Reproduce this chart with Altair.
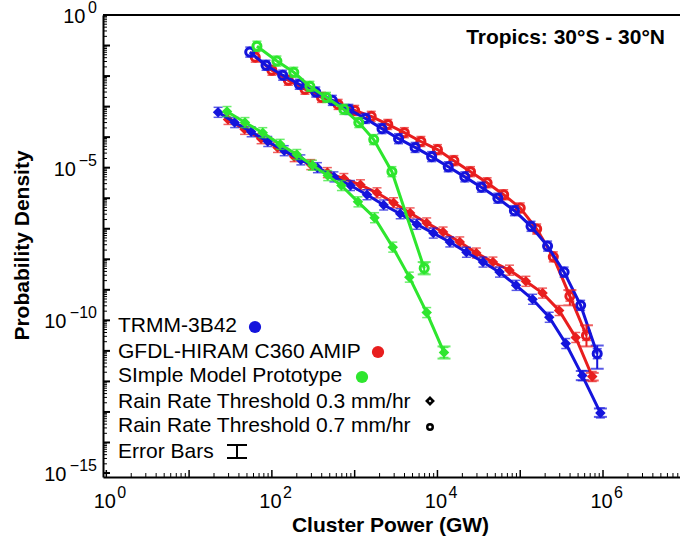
import altair as alt
import pandas as pd

FONT = "Liberation Sans, Arial, DejaVu Sans, sans-serif"
BLUE = "#1414dc"
RED = "#e81e1e"
GREEN = "#2ee62e"

# ---------------- data ----------------
# TRMM-3B42, threshold 0.3 mm/hr (diamonds)
trmm03_x = [22.4, 35.5, 56.2, 89.1, 141, 224, 355, 562, 891, 1410, 2240, 3550, 5620, 8910,
            1.41e4, 2.24e4, 3.55e4, 5.62e4, 8.91e4, 1.41e5, 2.24e5, 3.55e5, 5.62e5, 9.3e5]
trmm03_y = [6.5e-4, 3.0e-4, 1.5e-4, 7.2e-5, 3.6e-5, 1.8e-5, 1.0e-5, 5.0e-6, 2.6e-6, 1.3e-6,
            6.0e-7, 3.1e-7, 1.4e-7, 7.2e-8, 3.7e-8, 1.7e-8, 8.1e-9, 3.8e-9, 1.4e-9, 4.9e-10,
            1.26e-10, 1.74e-11, 1.55e-12, 9.3e-14]
# TRMM-3B42, threshold 0.7 mm/hr (circles)
trmm07_x = [54, 85, 135, 214, 339, 537, 851, 1350, 2140, 3390, 5370, 8510, 1.35e4, 2.14e4,
            3.39e4, 5.37e4, 8.51e4, 1.35e5, 2.14e5, 3.39e5, 5.37e5, 8.51e5]
trmm07_y = [0.061, 0.0226, 0.0107, 0.0054, 0.0030, 0.0016, 8.1e-4, 4.1e-4, 1.9e-4, 8.9e-5,
            4.6e-5, 2.3e-5, 1.07e-5, 5.0e-6, 2.3e-6, 1.0e-6, 3.9e-7, 1.2e-7, 2.7e-8, 3.8e-9,
            3.1e-10, 8.1e-12]
# GFDL-HIRAM C360 AMIP, 0.3 mm/hr
gfdl03_x = [29.5, 46.8, 74.1, 117, 186, 295, 468, 741, 1175, 1862, 2951, 4677, 7413, 1.17e4,
            1.86e4, 2.95e4, 4.68e4, 7.41e4, 1.17e5, 1.86e5, 2.95e5, 4.68e5, 7.41e5]
gfdl03_y = [3.8e-4, 1.8e-4, 8.9e-5, 4.6e-5, 2.3e-5, 1.26e-5, 6.9e-6, 4.4e-6, 2.75e-6, 1.5e-6,
            7.1e-7, 3.3e-7, 1.55e-7, 7.8e-8, 3.7e-8, 1.6e-8, 8.1e-9, 4.4e-9, 1.9e-9, 7.8e-10,
            2.1e-10, 2.75e-11, 1.45e-12]
# GFDL-HIRAM C360 AMIP, 0.7 mm/hr
gfdl07_x = [63, 100, 158, 251, 398, 631, 1000, 1585, 2512, 3981, 6310, 1.0e4, 1.58e4, 2.51e4,
            3.98e4, 6.31e4, 1.0e5, 1.58e5, 2.51e5, 3.98e5, 6.31e5]
gfdl07_y = [0.0417, 0.0155, 0.0073, 0.0037, 0.0020, 0.00118, 7.5e-4, 4.8e-4, 2.6e-4, 1.4e-4,
            7.2e-5, 3.9e-5, 1.7e-5, 7.4e-6, 3.2e-6, 1.3e-6, 4.8e-7, 9.8e-8, 1.2e-8, 6.2e-10,
            3.2e-11]
# Simple Model Prototype, 0.3 mm/hr
simple03_x = [28.7, 47.3, 77.6, 126, 200, 309, 473, 692, 1096, 1738, 2884, 4571, 7413, 1.2e4]
simple03_y = [6.9e-4, 3.0e-4, 1.4e-4, 5.8e-5, 2.7e-5, 1.2e-5, 5.5e-6, 2.6e-6, 7.6e-7, 2.3e-7,
              2.5e-8, 2.6e-9, 1.8e-10, 8.9e-12]
# Simple Model Prototype, 0.7 mm/hr
simple07_x = [66, 115, 184, 288, 457, 741, 1122, 1700, 2818, 6918]
simple07_y = [0.095, 0.031, 0.0133, 0.0046, 0.0020, 8.1e-4, 3.0e-4, 8.3e-5, 7.4e-6, 5.1e-9]

# error bars at the tails: x, low, high, dataset
err_x = [9.3e5, 5.62e5, 8.51e5, 7.41e5, 6.31e5, 3.98e5, 1.2e4, 6918]
err_lo = [6.9e-14, 1.1e-12, 2.6e-12, 1.07e-12, 1.4e-11, 3.1e-10, 5.6e-12, 3.2e-9]
err_hi = [1.3e-13, 2.2e-12, 1.5e-11, 1.9e-12, 6.9e-11, 9.8e-10, 1.4e-11, 8.1e-9]
err_set = ["TRMM", "TRMM", "TRMM", "GFDL", "GFDL", "GFDL", "Simple", "Simple"]

x_tick_values = [1, 1e2, 1e4, 1e6]
x_tick_exps = ["0", "2", "4", "6"]
y_tick_values = [1, 1e-5, 1e-10, 1e-15]
y_tick_exps = ["0", "\u22125", "\u221210", "\u221215"]

legend_labels = ["TRMM-3B42", "GFDL-HIRAM C360 AMIP", "SImple Model Prototype",
                 "Rain Rate Threshold 0.3 mm/hr", "Rain Rate Threshold 0.7 mm/hr", "Error Bars"]
title_text = "Tropics: 30\u00b0S - 30\u00b0N"

# ---------------- scales / axes ----------------
W, H = 577, 462
xscale = alt.Scale(type="log", domain=[10 ** -0.04, 10 ** 6.93], nice=False)
yscale = alt.Scale(type="log", domain=[10 ** -15.13, 1], nice=False)

xaxis = alt.Axis(values=x_tick_values, labelExpr="'10'", labelOffset=-2,
                 ticks=False, grid=False, domainColor="black", domainWidth=2,
                 labelFont=FONT, labelFontSize=20, labelColor="black", labelPadding=14,
                 title="Cluster Power (GW)", titleFont=FONT, titleFontSize=21,
                 titleFontWeight="bold", titleColor="black", titleX=287, titleY=48,
                 titleBaseline="middle", titleAlign="center")
yaxis = alt.Axis(values=y_tick_values, labels=False,
                 ticks=False, grid=False, domainColor="black", domainWidth=2,
                 title="Probability Density", titleFont=FONT, titleFontSize=21,
                 titleFontWeight="bold", titleColor="black", titleX=-81, titleY=230,
                 titleAngle=270, titleBaseline="middle", titleAlign="center")


def X(f):
    return alt.X(f, type="quantitative", scale=xscale, axis=xaxis)


def Y(f):
    return alt.Y(f, type="quantitative", scale=yscale, axis=yaxis)


layers = []

# inward ticks
x_major = [10 ** d for d in range(0, 7)]
x_minor = [k * 10 ** d for d in range(0, 7) for k in range(2, 10) if k * 10 ** d < 10 ** 6.93]
y_major = [10.0 ** -d for d in range(0, 16)]
y_minor = [k * 10.0 ** -d for d in range(1, 16) for k in range(2, 10) if k * 10.0 ** -d > 10 ** -15.13]

layers.append(alt.Chart(pd.DataFrame({"v": x_major})).mark_rule(color="black", strokeWidth=1.5)
              .encode(x=X("v"), y=alt.value(H), y2=alt.value(H - 7)))
layers.append(alt.Chart(pd.DataFrame({"v": x_minor})).mark_rule(color="black", strokeWidth=1)
              .encode(x=X("v"), y=alt.value(H), y2=alt.value(H - 4)))
layers.append(alt.Chart(pd.DataFrame({"v": y_major})).mark_rule(color="black", strokeWidth=2)
              .encode(y=Y("v"), x=alt.value(0), x2=alt.value(7)))
layers.append(alt.Chart(pd.DataFrame({"v": y_minor})).mark_rule(color="black", strokeWidth=1)
              .encode(y=Y("v"), x=alt.value(0), x2=alt.value(4)))
# top frame line
layers.append(alt.Chart(pd.DataFrame({"a": [0]})).mark_rule(color="black", strokeWidth=2)
              .encode(x=alt.value(0), x2=alt.value(W), y=alt.value(0)))

# tick labels with exponents
layers.append(alt.Chart(pd.DataFrame({"v": x_tick_values, "e": x_tick_exps}))
              .mark_text(align="left", baseline="middle", font=FONT, fontSize=16, dx=11,
                         color="black")
              .encode(x=X("v"), y=alt.value(H + 16), text="e:N"))
for v, e in zip(y_tick_values, y_tick_exps):
    d = pd.DataFrame({"v": [v], "e": [e]})
    layers.append(alt.Chart(d).mark_text(align="right", baseline="middle", font=FONT,
                                         fontSize=16, dy=-7, color="black")
                  .encode(x=alt.value(-6), y=Y("v"), text="e:N"))
    layers.append(alt.Chart(d).mark_text(align="right", baseline="middle", font=FONT,
                                         fontSize=20, dy=2, color="black")
                  .encode(x=alt.value(-8 - 9.5 * len(e)), y=Y("v"), text=alt.value("10")))

series = [
    (gfdl03_x, gfdl03_y, RED, "diamond"),
    (gfdl07_x, gfdl07_y, RED, "circle"),
    (trmm03_x, trmm03_y, BLUE, "diamond"),
    (trmm07_x, trmm07_y, BLUE, "circle"),
    (simple03_x, simple03_y, GREEN, "diamond"),
    (simple07_x, simple07_y, GREEN, "circle"),
]
set_color = {"TRMM": BLUE, "GFDL": RED, "Simple": GREEN}

for xs, ys, col, shp in series:
    df = pd.DataFrame({"x": xs, "y": ys})
    base = alt.Chart(df)
    layers.append(base.mark_line(color=col, strokeWidth=3).encode(x=X("x"), y=Y("y")))
    if shp == "diamond":
        pts = base.mark_point(shape="diamond", filled=True, size=110, color=col, opacity=1)
    else:
        pts = base.mark_point(shape="circle", filled=False, size=65, color=col, strokeWidth=3,
                              opacity=1)
    layers.append(pts.encode(x=X("x"), y=Y("y")))
    # small caps giving the starred look
    layers.append(base.mark_tick(orient="horizontal", size=9, thickness=1.5, color=col)
                  .encode(x=X("x"), y=Y("y"), yOffset=alt.value(-5)))
    layers.append(base.mark_tick(orient="horizontal", size=9, thickness=1.5, color=col)
                  .encode(x=X("x"), y=Y("y"), yOffset=alt.value(5)))

edf = pd.DataFrame({"x": err_x, "lo": err_lo, "hi": err_hi, "set": err_set})
for name, col in set_color.items():
    sub = alt.Chart(edf[edf["set"] == name])
    layers.append(sub.mark_rule(color=col, strokeWidth=2).encode(x=X("x"), y=Y("lo"), y2="hi"))
    layers.append(sub.mark_tick(orient="horizontal", size=13, thickness=2, color=col)
                  .encode(x=X("x"), y=Y("lo")))
    layers.append(sub.mark_tick(orient="horizontal", size=13, thickness=2, color=col)
                  .encode(x=X("x"), y=Y("hi")))

# title inside the plot
one = pd.DataFrame({"a": [0]})
layers.append(alt.Chart(one).mark_text(align="right", baseline="middle", font=FONT, fontSize=21,
                                       fontWeight="bold", color="black")
              .encode(x=alt.value(562), y=alt.value(23), text=alt.value(title_text)))

# legend
leg_y = [311, 337, 361, 387, 411, 437]
for lab, yy in zip(legend_labels, leg_y):
    layers.append(alt.Chart(one).mark_text(align="left", baseline="middle", font=FONT,
                                           fontSize=21, color="black")
                  .encode(x=alt.value(15), y=alt.value(yy), text=alt.value(lab)))
for col, xx, yy in [(BLUE, 152, 312), (RED, 275, 337), (GREEN, 259, 362)]:
    layers.append(alt.Chart(one).mark_point(shape="circle", filled=True, size=150, color=col,
                                            opacity=1)
                  .encode(x=alt.value(xx), y=alt.value(yy)))
layers.append(alt.Chart(one).mark_point(shape="diamond", filled=False, size=40, color="black",
                                        strokeWidth=2.5, opacity=1)
              .encode(x=alt.value(327), y=alt.value(386)))
layers.append(alt.Chart(one).mark_point(shape="circle", filled=False, size=30, color="black",
                                        strokeWidth=2.5, opacity=1)
              .encode(x=alt.value(327), y=alt.value(412)))
layers.append(alt.Chart(one).mark_rule(color="black", strokeWidth=2)
              .encode(x=alt.value(134), y=alt.value(430), y2=alt.value(443)))
layers.append(alt.Chart(one).mark_rule(color="black", strokeWidth=2)
              .encode(x=alt.value(124), x2=alt.value(144), y=alt.value(430)))
layers.append(alt.Chart(one).mark_rule(color="black", strokeWidth=2)
              .encode(x=alt.value(124), x2=alt.value(144), y=alt.value(443)))

chart = alt.layer(*layers).properties(
    width=W, height=H,
    padding={"left": 103, "top": 15, "right": 0, "bottom": 62},
    autosize=alt.AutoSizeParams(type="none"),
    background="white",
).configure_view(stroke=None)

chart.save("out.html", embed_options={"renderer": "svg", "actions": False})
